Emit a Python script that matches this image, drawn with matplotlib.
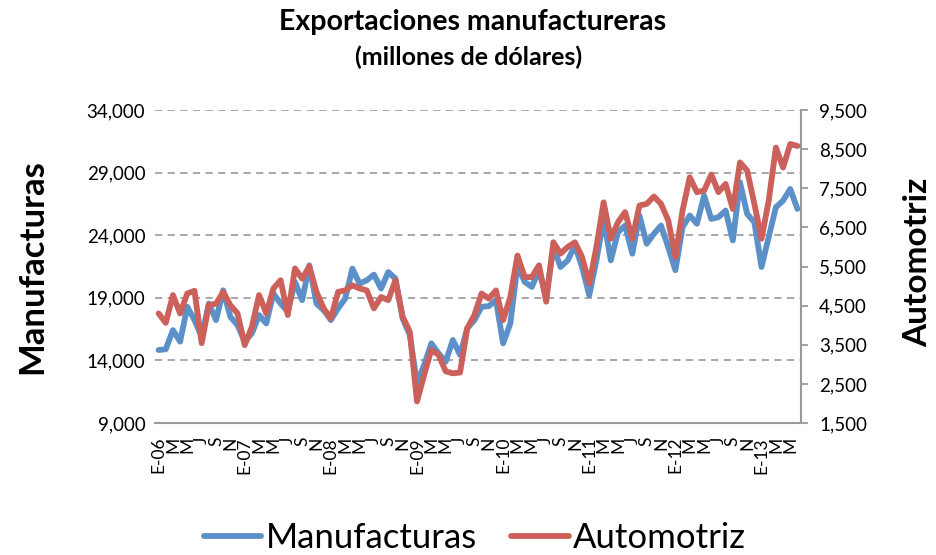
import matplotlib
matplotlib.use("Agg")
import matplotlib.pyplot as plt
import numpy as np

plt.rcParams['font.family'] = ['Lato', 'DejaVu Sans']

# Monthly data, Jan 2006 .. Jun 2013
manufacturas = [
    14830, 14890, 16420, 15500, 18280, 17220, 15890, 18540, 17220, 19600, 17480, 16820,
    15500, 16160, 17620, 16950, 19340, 18540, 17880, 20270, 18810, 21590, 18540, 18010,
    17220, 18150, 18940, 21330, 20130, 20400, 20850, 19740, 21060, 20530, 17350, 16030,
    12180, 13640, 15360, 14570, 13900, 15630, 14440, 16560, 17220, 18280, 18330, 18810,
    15360, 16950, 21590, 20270, 19870, 21200, 19070, 23050, 21460, 21990, 23180, 21460,
    19210, 21990, 25300, 21990, 24240, 24770, 22520, 25570, 23320, 24110, 24770, 23050,
    21200, 24640, 25570, 24910, 27160, 25300, 25440, 25970, 23580, 28220, 25700, 25040,
    21460, 23850, 26230, 26760, 27690, 26100,
]
automotriz = [
    4300, 4060, 4770, 4300, 4810, 4880, 3540, 4510, 4550, 4850, 4510, 4300,
    3490, 3960, 4770, 4300, 4940, 5150, 4260, 5450, 5190, 5500, 4850, 4430,
    4170, 4850, 4890, 5020, 4940, 4890, 4430, 4720, 4640, 5150, 4220, 3830,
    2050, 2730, 3370, 3240, 2820, 2770, 2790, 3920, 4260, 4810, 4680, 4890,
    4130, 4720, 5780, 5230, 5230, 5530, 4600, 6120, 5830, 6000, 6120, 5740,
    5060, 6000, 7140, 6210, 6630, 6890, 6210, 7060, 7100, 7290, 7100, 6680,
    5740, 6930, 7780, 7400, 7440, 7850, 7400, 7610, 6970, 8160, 7950, 7100,
    6210, 7180, 8540, 8030, 8630, 8580,
]
month_letters = ['E', 'F', 'M', 'A', 'M', 'J', 'J', 'A', 'S', 'O', 'N', 'D']
start_year = 2006
series_names = ['Manufacturas', 'Automotriz']

n = len(manufacturas)
x = np.arange(n)
tick_labels = []
for i in range(0, n, 2):
    m = i % 12
    yr = start_year + i // 12
    tick_labels.append(f"E-{yr % 100:02d}" if m == 0 else month_letters[m])

W, H = 936, 555
fig = plt.figure(figsize=(W / 100, H / 100), dpi=100)
ax = fig.add_axes([155 / W, 1 - 423 / H, (801 - 155) / W, (423 - 110) / H])
ax2 = ax.twinx()

blue = '#5B90C9'
red = '#CC605A'
grid_c = '#A0A0A0'

l1, = ax.plot(x, manufacturas, color=blue, lw=4.2, solid_joinstyle='round',
              solid_capstyle='round', label=series_names[0], zorder=3)
l2, = ax2.plot(x, automotriz, color=red, lw=4.2, solid_joinstyle='round',
               solid_capstyle='round', label=series_names[1], zorder=3)

ax.set_xlim(-0.5, n - 0.5)
ax.set_ylim(9000, 34000)
ax2.set_ylim(1500, 9500)
ax.set_yticks(np.arange(9000, 34001, 5000))
ax2.set_yticks(np.arange(1500, 9501, 1000))
ax.yaxis.set_major_formatter(matplotlib.ticker.FuncFormatter(lambda v, p: f"{int(v):,}"))
ax2.yaxis.set_major_formatter(matplotlib.ticker.FuncFormatter(lambda v, p: f"{int(v):,}"))

ax.set_xticks(x[::2])
ax.set_xticklabels(tick_labels, rotation=90, va='top', ha='center', fontsize=12.5)
ax.tick_params(axis='x', length=0, pad=10)

ax.grid(axis='y', color=grid_c, linestyle=(0, (4, 3)), linewidth=1.3)
ax.set_axisbelow(True)

for a in (ax, ax2):
    for s in a.spines.values():
        s.set_visible(False)
ax.spines['bottom'].set_visible(True)
ax.spines['bottom'].set_color('#9A9A9A')
ax.spines['bottom'].set_linewidth(1.5)
ax2.spines['right'].set_visible(True)
ax2.spines['right'].set_color('#9A9A9A')
ax2.spines['right'].set_linewidth(1.5)

ax.tick_params(axis='y', length=0, labelsize=13.5, pad=7, colors='#000000')
ax2.tick_params(axis='y', length=5, width=1.3, color='#9A9A9A', labelsize=13.5, pad=8)

fig.text(473 / W, 1 - 22 / H, 'Exportaciones manufactureras', ha='center', va='center',
         fontsize=20.5, fontweight='bold')
fig.text(469 / W, 1 - 57 / H, '(millones de dólares)', ha='center', va='center',
         fontsize=18, fontweight='bold')
fig.text(32 / W, 1 - 267 / H, series_names[0], rotation=90, ha='center', va='center',
         fontsize=25, fontweight='bold')
fig.text(918 / W, 1 - 262 / H, series_names[1], rotation=90, ha='center', va='center',
         fontsize=24, fontweight='bold')

fig.legend(handles=[l1, l2], loc='center', bbox_to_anchor=(475 / W, 1 - 538 / H),
           ncol=2, frameon=False, fontsize=25, handlelength=1.65, handletextpad=0.12,
           columnspacing=1.0, borderpad=0)

fig.savefig('out.png', dpi=100)
